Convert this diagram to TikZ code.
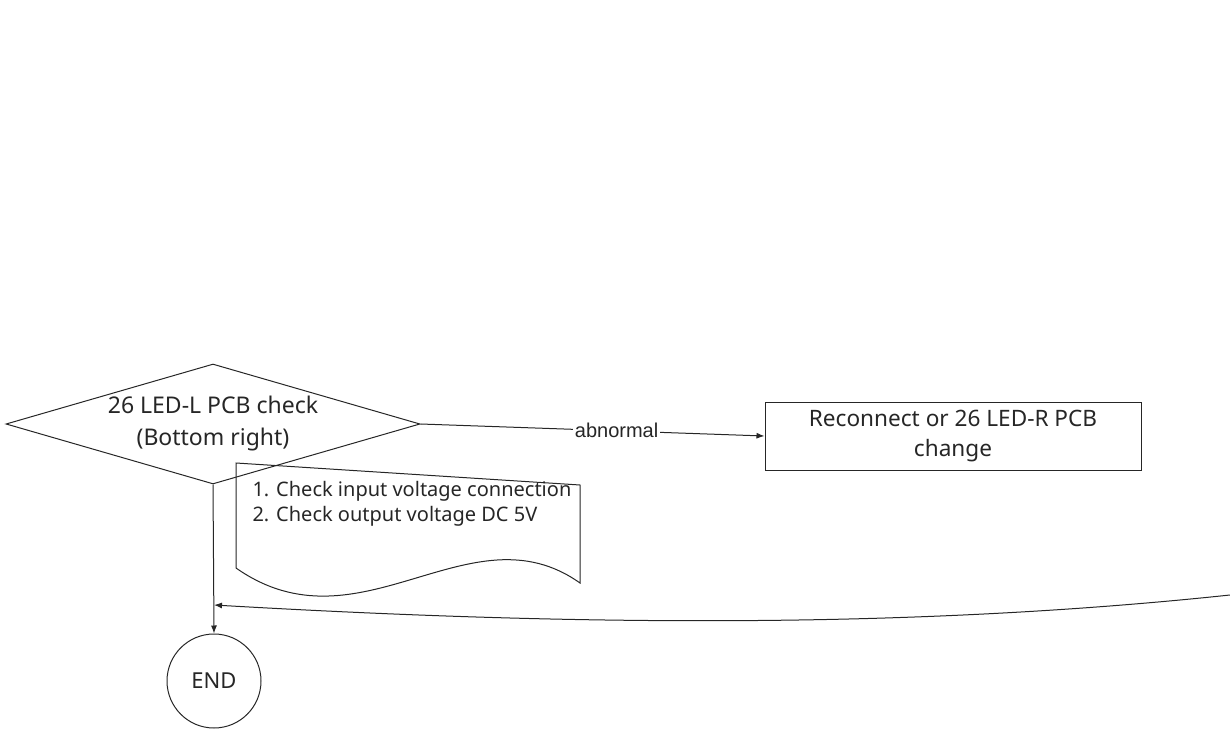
\documentclass[tikz,border=0pt]{standalone}
\usepackage{fontspec}
\setmainfont{Noto Sans}
\newfontfamily\labelfont{Liberation Sans}
\usetikzlibrary{shapes.geometric, arrows.meta, positioning}

\begin{document}
\begin{tikzpicture}[
  x=0.5pt, y=-0.5pt,
  line width=0.5pt, color=black!85,
  decision/.style={diamond, draw, aspect=3.5, inner sep=0pt, minimum width=207pt, minimum height=60pt, align=center, font=\fontsize{11.5}{16}\selectfont},
  action/.style={rectangle, draw, minimum width=188pt, minimum height=34pt, align=center, font=\fontsize{11.3}{15}\selectfont},
  term/.style={circle, draw, minimum size=47pt, inner sep=0pt, font=\fontsize{11}{13}\selectfont},
  memo/.style={align=left, inner sep=0pt, font=\fontsize{10}{12.5}\selectfont},
  >={Latex[length=4pt,width=3pt]}
]
\useasboundingbox (0,0) rectangle (1230,732);

\node[decision] (check) at (213,424) {26 LED-L PCB check\\(Bottom right)};
\node[action] (fix) at (953,436) {Reconnect or 26 LED-R PCB\\change};
\node[term] (end) at (214,681) {END};

% note under the check
\node[memo, anchor=north west] (note) at (252,481) {1. Check input voltage connection\\2. Check output voltage DC 5V};
\draw (236,463) -- (580,485) -- (580,583)
  .. controls (470,505) and (360,655) .. (236,568) -- cycle;

\coordinate (back) at (1230,595);
\coordinate (join) at (214,605);

\draw[->] (check.east) -- node[pos=0.57, fill=white, inner sep=1pt, font=\labelfont\fontsize{10}{12}\selectfont] {abnormal} (fix.west);
\draw[->] (check.south) -- (end.north);
\draw[->] (back) .. controls (900,630) and (560,625) .. (join);

\end{tikzpicture}
\end{document}
